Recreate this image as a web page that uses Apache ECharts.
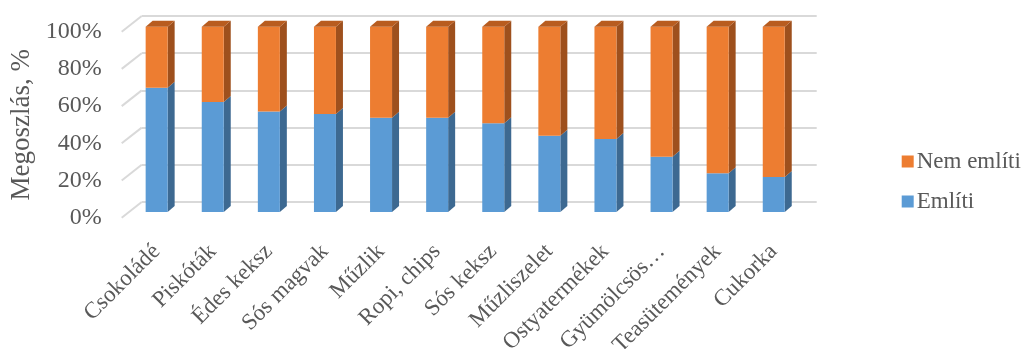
<!DOCTYPE html>
<html>
<head>
<meta charset="utf-8">
<script src="https://cdn.jsdelivr.net/npm/echarts@6/dist/echarts.min.js"></script>
<style>html,body{margin:0;padding:0;background:#fff;}#main{width:1023px;height:349px;}</style>
</head>
<body>
<div id="main"></div>
<script>
const categories = ['Csokoládé','Piskóták','Édes keksz','Sós magvak','Műzlik','Ropi, chips','Sós keksz','Műzliszelet','Ostyatermékek','Gyümölcsös…','Teasütemények','Cukorka'];
const emliti = [67.1, 59.4, 54.3, 52.9, 50.9, 50.9, 47.9, 41.2, 39.4, 29.8, 20.9, 18.9];
const nemEmliti = [32.9, 40.6, 45.7, 47.1, 49.1, 49.1, 52.1, 58.8, 60.6, 70.2, 79.1, 81.1];
const yTicks = [0, 20, 40, 60, 80, 100];
const seriesNames = ['Említi', 'Nem említi'];

const FONT = "'Liberation Serif', 'Times New Roman', serif";
const TXT = '#595959';
const DX = 7, DY = 6;

function barRenderer(front, side, top, drawTop) {
  return function (params, api) {
    const i = api.value(0), s = api.value(1), e = api.value(2);
    const b = api.coord([i, s]);
    const t = api.coord([i, e]);
    const bw = api.size([1, 0])[0] * 0.392;
    const x0 = b[0] - bw / 2, x1 = b[0] + bw / 2;
    const children = [
      { type: 'polygon', shape: { points: [[x1, b[1]], [x1 + DX, b[1] - DY], [x1 + DX, t[1] - DY], [x1, t[1]]] }, style: { fill: side } },
      { type: 'rect', shape: { x: x0, y: t[1], width: bw, height: b[1] - t[1] }, style: { fill: front } }
    ];
    if (drawTop) {
      children.push({ type: 'polygon', shape: { points: [[x0, t[1]], [x0 + DX, t[1] - DY], [x1 + DX, t[1] - DY], [x1, t[1]]] }, style: { fill: top } });
    }
    return { type: 'group', children };
  };
}

const blueData = categories.map((c, i) => [i, 0, emliti[i]]);
const orangeData = categories.map((c, i) => [i, emliti[i], emliti[i] + nemEmliti[i]]);

const chart = echarts.init(document.getElementById('main'), null, { renderer: 'canvas' });
chart.setOption({
  animation: false,
  backgroundColor: '#ffffff',
  textStyle: { fontFamily: FONT },
  legend: {
    orient: 'vertical', left: 896.7, top: 145,
    itemWidth: 12, itemHeight: 12, itemGap: 17,
    icon: 'rect',
    data: [seriesNames[1], seriesNames[0]],
    textStyle: { fontFamily: FONT, fontSize: 23, color: TXT, padding: [0, 0, 0, -2] }
  },
  grid: [
    { left: 121.7, top: 31.7, height: 186, width: 20, outerBoundsMode: 'none', containLabel: false },
    { left: 141.7, top: 16, height: 186, width: 675, outerBoundsMode: 'none', containLabel: false },
    { left: 128.6, top: 26.7, height: 185.3, width: 673.2, outerBoundsMode: 'none', containLabel: false }
  ],
  xAxis: [
    { gridIndex: 0, type: 'value', min: 0, max: 1, show: false },
    { gridIndex: 1, type: 'value', min: 0, max: 1, show: false },
    { gridIndex: 2, type: 'category', data: categories,
      axisLine: { show: false }, axisTick: { show: false },
      axisLabel: { rotate: 45, interval: 0, margin: 36, hideOverlap: false, fontFamily: FONT, fontSize: 23, color: TXT } }
  ],
  yAxis: [
    { gridIndex: 0, type: 'value', min: 0, max: 100, interval: 20,
      axisLine: { show: false }, axisTick: { show: false }, splitLine: { show: false },
      axisLabel: { formatter: '{value}%', margin: 20, fontFamily: FONT, fontSize: 24, color: TXT },
      name: 'Megoszlás, %', nameLocation: 'middle', nameGap: 86,
      nameTextStyle: { fontFamily: FONT, fontSize: 27, color: TXT } },
    { gridIndex: 1, type: 'value', min: 0, max: 100, interval: 20,
      axisLine: { show: false }, axisTick: { show: false }, axisLabel: { show: false },
      splitLine: { show: true, lineStyle: { color: '#D9D9D9', width: 2 } } },
    { gridIndex: 2, type: 'value', min: 0, max: 100, show: false }
  ],
  series: [
    { type: 'custom', name: 'floor', xAxisIndex: 0, yAxisIndex: 0, silent: true,
      data: yTicks.map(v => [0, v]),
      encode: { x: 0, y: 1 },
      renderItem: function (params, api) {
        const p = api.coord([0, api.value(1)]);
        return { type: 'line', shape: { x1: p[0], y1: p[1], x2: p[0] + 20, y2: p[1] - 15.7 }, style: { stroke: '#D9D9D9', lineWidth: 2 } };
      } },
    { type: 'custom', name: seriesNames[0], xAxisIndex: 2, yAxisIndex: 2,
      itemStyle: { color: '#5B9BD5' },
      data: blueData, encode: { x: 0, y: [1, 2] },
      renderItem: barRenderer('#5B9BD5', '#3D6991', '#4A80B0', false) },
    { type: 'custom', name: seriesNames[1], xAxisIndex: 2, yAxisIndex: 2,
      itemStyle: { color: '#ED7D31' },
      data: orangeData, encode: { x: 0, y: [1, 2] },
      renderItem: barRenderer('#ED7D31', '#9E501D', '#B85C1F', true) }
  ]
});
</script>
</body>
</html>
